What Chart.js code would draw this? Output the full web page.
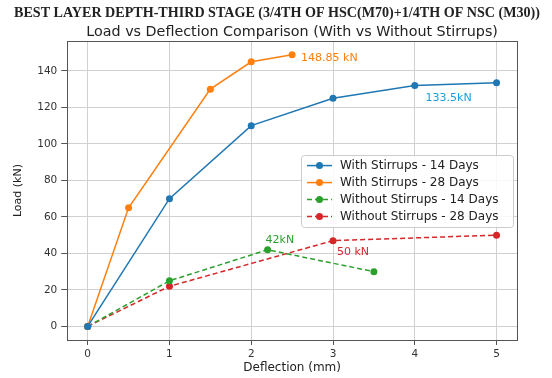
<!DOCTYPE html>
<html><head><meta charset="utf-8">
<script src="https://cdn.jsdelivr.net/npm/chart.js@4/dist/chart.umd.min.js"></script>
<style>html,body{margin:0;padding:0;background:#fff}#wrap{width:552px;height:378px}</style>
</head><body><div id="wrap"><canvas id="c" width="552" height="378"></canvas></div>
<script>
const xWith14 = [0, 1, 2, 3, 4, 5];
const yWith14 = [0, 70, 110, 125, 132, 133.5];
const xWith28 = [0, 0.5, 1.5, 2, 2.5];
const yWith28 = [0, 65, 130, 145, 148.85];
const xWithout14 = [0, 1, 2.2, 3.5];
const yWithout14 = [0, 25, 42, 30];
const xWithout28 = [0, 1, 3, 5];
const yWithout28 = [0, 22, 47, 50];
const seriesLabels = ['With Stirrups - 14 Days','With Stirrups - 28 Days','Without Stirrups - 14 Days','Without Stirrups - 28 Days'];
const xTicks = [0,1,2,3,4,5];
const yTicks = [0,20,40,60,80,100,120,140];
const annotations = [
  {series:1, idx:4, text:'148.85 kN'},
  {series:0, idx:5, text:'133.5kN'},
  {series:2, idx:2, text:'42kN'},
  {series:3, idx:2, text:'50 kN'}
];
const titleText = 'BEST LAYER DEPTH-THIRD STAGE (3/4TH OF HSC(M70)+1/4TH OF NSC (M30))';
const subtitleText = 'Load vs Deflection Comparison (With vs Without Stirrups)';

const colors = ['#1f77b4','#ff7f0e','#2ca02c','#d62728'];
const dashes = [[],[],[5,3],[5,3]];
const pairs = (xs, ys) => xs.map((x,i)=>({x, y: ys[i]}));
const allData = [pairs(xWith14,yWith14), pairs(xWith28,yWith28), pairs(xWithout14,yWithout14), pairs(xWithout28,yWithout28)];

const datasets = allData.map((d,i)=>({
  label: seriesLabels[i], data: d, borderColor: colors[i], backgroundColor: colors[i],
  borderWidth: 1.5, borderDash: dashes[i], pointRadius: 3.5, pointHoverRadius: 3.5,
  pointBorderWidth: 0, tension: 0, fill: false
}));

const annotOffsets = [[9,3],[-71,15],[-2,-10],[4,11]];
const annotPlugin = {
  id: 'annot',
  afterDatasetsDraw(chart) {
    const ctx = chart.ctx, xs = chart.scales.x, ys = chart.scales.y;
    ctx.save();
    ctx.font = '11px "DejaVu Sans"';
    ctx.textBaseline = 'middle';
    annotations.forEach((a,k)=>{
      const p = allData[a.series][a.idx];
      const px = xs.getPixelForValue(p.x), py = ys.getPixelForValue(p.y);
      ctx.fillStyle = a.series===0 ? '#17a2d8' : colors[a.series];
      ctx.textAlign = 'left';
      ctx.fillText(a.text, px + annotOffsets[k][0], py + annotOffsets[k][1]);
    });
    ctx.restore();
  }
};

const supTitlePlugin = {
  id: 'supTitle',
  afterDraw(chart) {
    const ctx = chart.ctx;
    ctx.save();
    ctx.font = 'bold 14.1px "Liberation Serif", "Times New Roman", serif';
    ctx.fillStyle = '#222';
    ctx.textAlign = 'center';
    ctx.textBaseline = 'middle';
    ctx.fillText(titleText, chart.width / 2 + 1, 13);
    ctx.restore();
  }
};

const legendPlugin = {
  id: 'boxLegend',
  afterDraw(chart) {
    const ctx = chart.ctx, ca = chart.chartArea;
    const w = 212, rowH = 17, h = rowH*4 + 4;
    const x0 = ca.right - w - 4, y0 = (ca.top + ca.bottom)/2 - h/2;
    ctx.save();
    ctx.fillStyle = 'rgba(255,255,255,0.85)';
    ctx.strokeStyle = '#cccccc';
    ctx.lineWidth = 1;
    ctx.beginPath();
    ctx.roundRect(Math.round(x0)+0.5, Math.round(y0)+0.5, w, h, 3);
    ctx.fill(); ctx.stroke();
    ctx.font = '12px "DejaVu Sans"';
    ctx.textBaseline = 'middle';
    seriesLabels.forEach((lab,i)=>{
      const cy = y0 + 2 + rowH*i + rowH/2 + 0.5;
      ctx.strokeStyle = colors[i]; ctx.lineWidth = 1.5;
      ctx.setLineDash(dashes[i]);
      ctx.beginPath(); ctx.moveTo(x0+6, cy); ctx.lineTo(x0+31, cy); ctx.stroke();
      ctx.setLineDash([]);
      ctx.fillStyle = colors[i];
      ctx.beginPath(); ctx.arc(x0+18.5, cy, 3.5, 0, Math.PI*2); ctx.fill();
      ctx.fillStyle = '#222';
      ctx.fillText(lab, x0+39, cy);
    });
    ctx.restore();
  }
};

const borderPlugin = {
  id: 'frame',
  afterDraw(chart) {
    const ctx = chart.ctx, ca = chart.chartArea;
    ctx.save();
    ctx.strokeStyle = '#555'; ctx.lineWidth = 1;
    ctx.strokeRect(Math.round(ca.left)+0.5, Math.round(ca.top)+0.5, Math.round(ca.right-ca.left), Math.round(ca.bottom-ca.top));
    ctx.restore();
  }
};

new Chart(document.getElementById('c'), {
  type: 'line',
  data: { datasets },
  plugins: [annotPlugin, legendPlugin, borderPlugin, supTitlePlugin],
  options: {
    responsive: false, animation: false, devicePixelRatio: 1,
    layout: { padding: { left: 12, right: 35, top: 24, bottom: 0 } },
    plugins: {
      legend: { display: false }, tooltip: { enabled: false }, title: { display: false }
    },
    scales: {
      x: { type: 'linear', min: -0.25, max: 5.25,
        afterBuildTicks: s => { s.ticks = xTicks.map(v=>({value:v})); },
        ticks: { color: '#333', font: { family: '"DejaVu Sans"', size: 10.5 }, padding: 3 },
        grid: { color: '#d0d0d0', tickColor: '#555', tickLength: 5, drawOnChartArea: true },
        border: { display: false },
        title: { display: true, text: 'Deflection (mm)', color: '#222', font: { family: '"DejaVu Sans"', size: 12 }, padding: { top: -3, bottom: 3 } }
      },
      xTop: { type: 'linear', position: 'top', min: -0.25, max: 5.25,
        ticks: { display: false }, grid: { display: false, drawTicks: false }, border: { display: false },
        title: { display: true, text: subtitleText, color: '#222', font: { family: '"DejaVu Sans"', size: 14.3 }, padding: { top: 0, bottom: 0 } }
      },
      y: { type: 'linear', min: -7.44, max: 156.3,
        afterBuildTicks: s => { s.ticks = yTicks.map(v=>({value:v})); },
        ticks: { color: '#333', font: { family: '"DejaVu Sans"', size: 10.5 }, padding: 4 },
        grid: { color: '#d0d0d0', tickColor: '#555', tickLength: 6 },
        border: { display: false },
        title: { display: true, text: 'Load (kN)', color: '#222', font: { family: '"DejaVu Sans"', size: 11 }, padding: { top: 0, bottom: 8 } }
      }
    }
  }
});
</script></body></html>
